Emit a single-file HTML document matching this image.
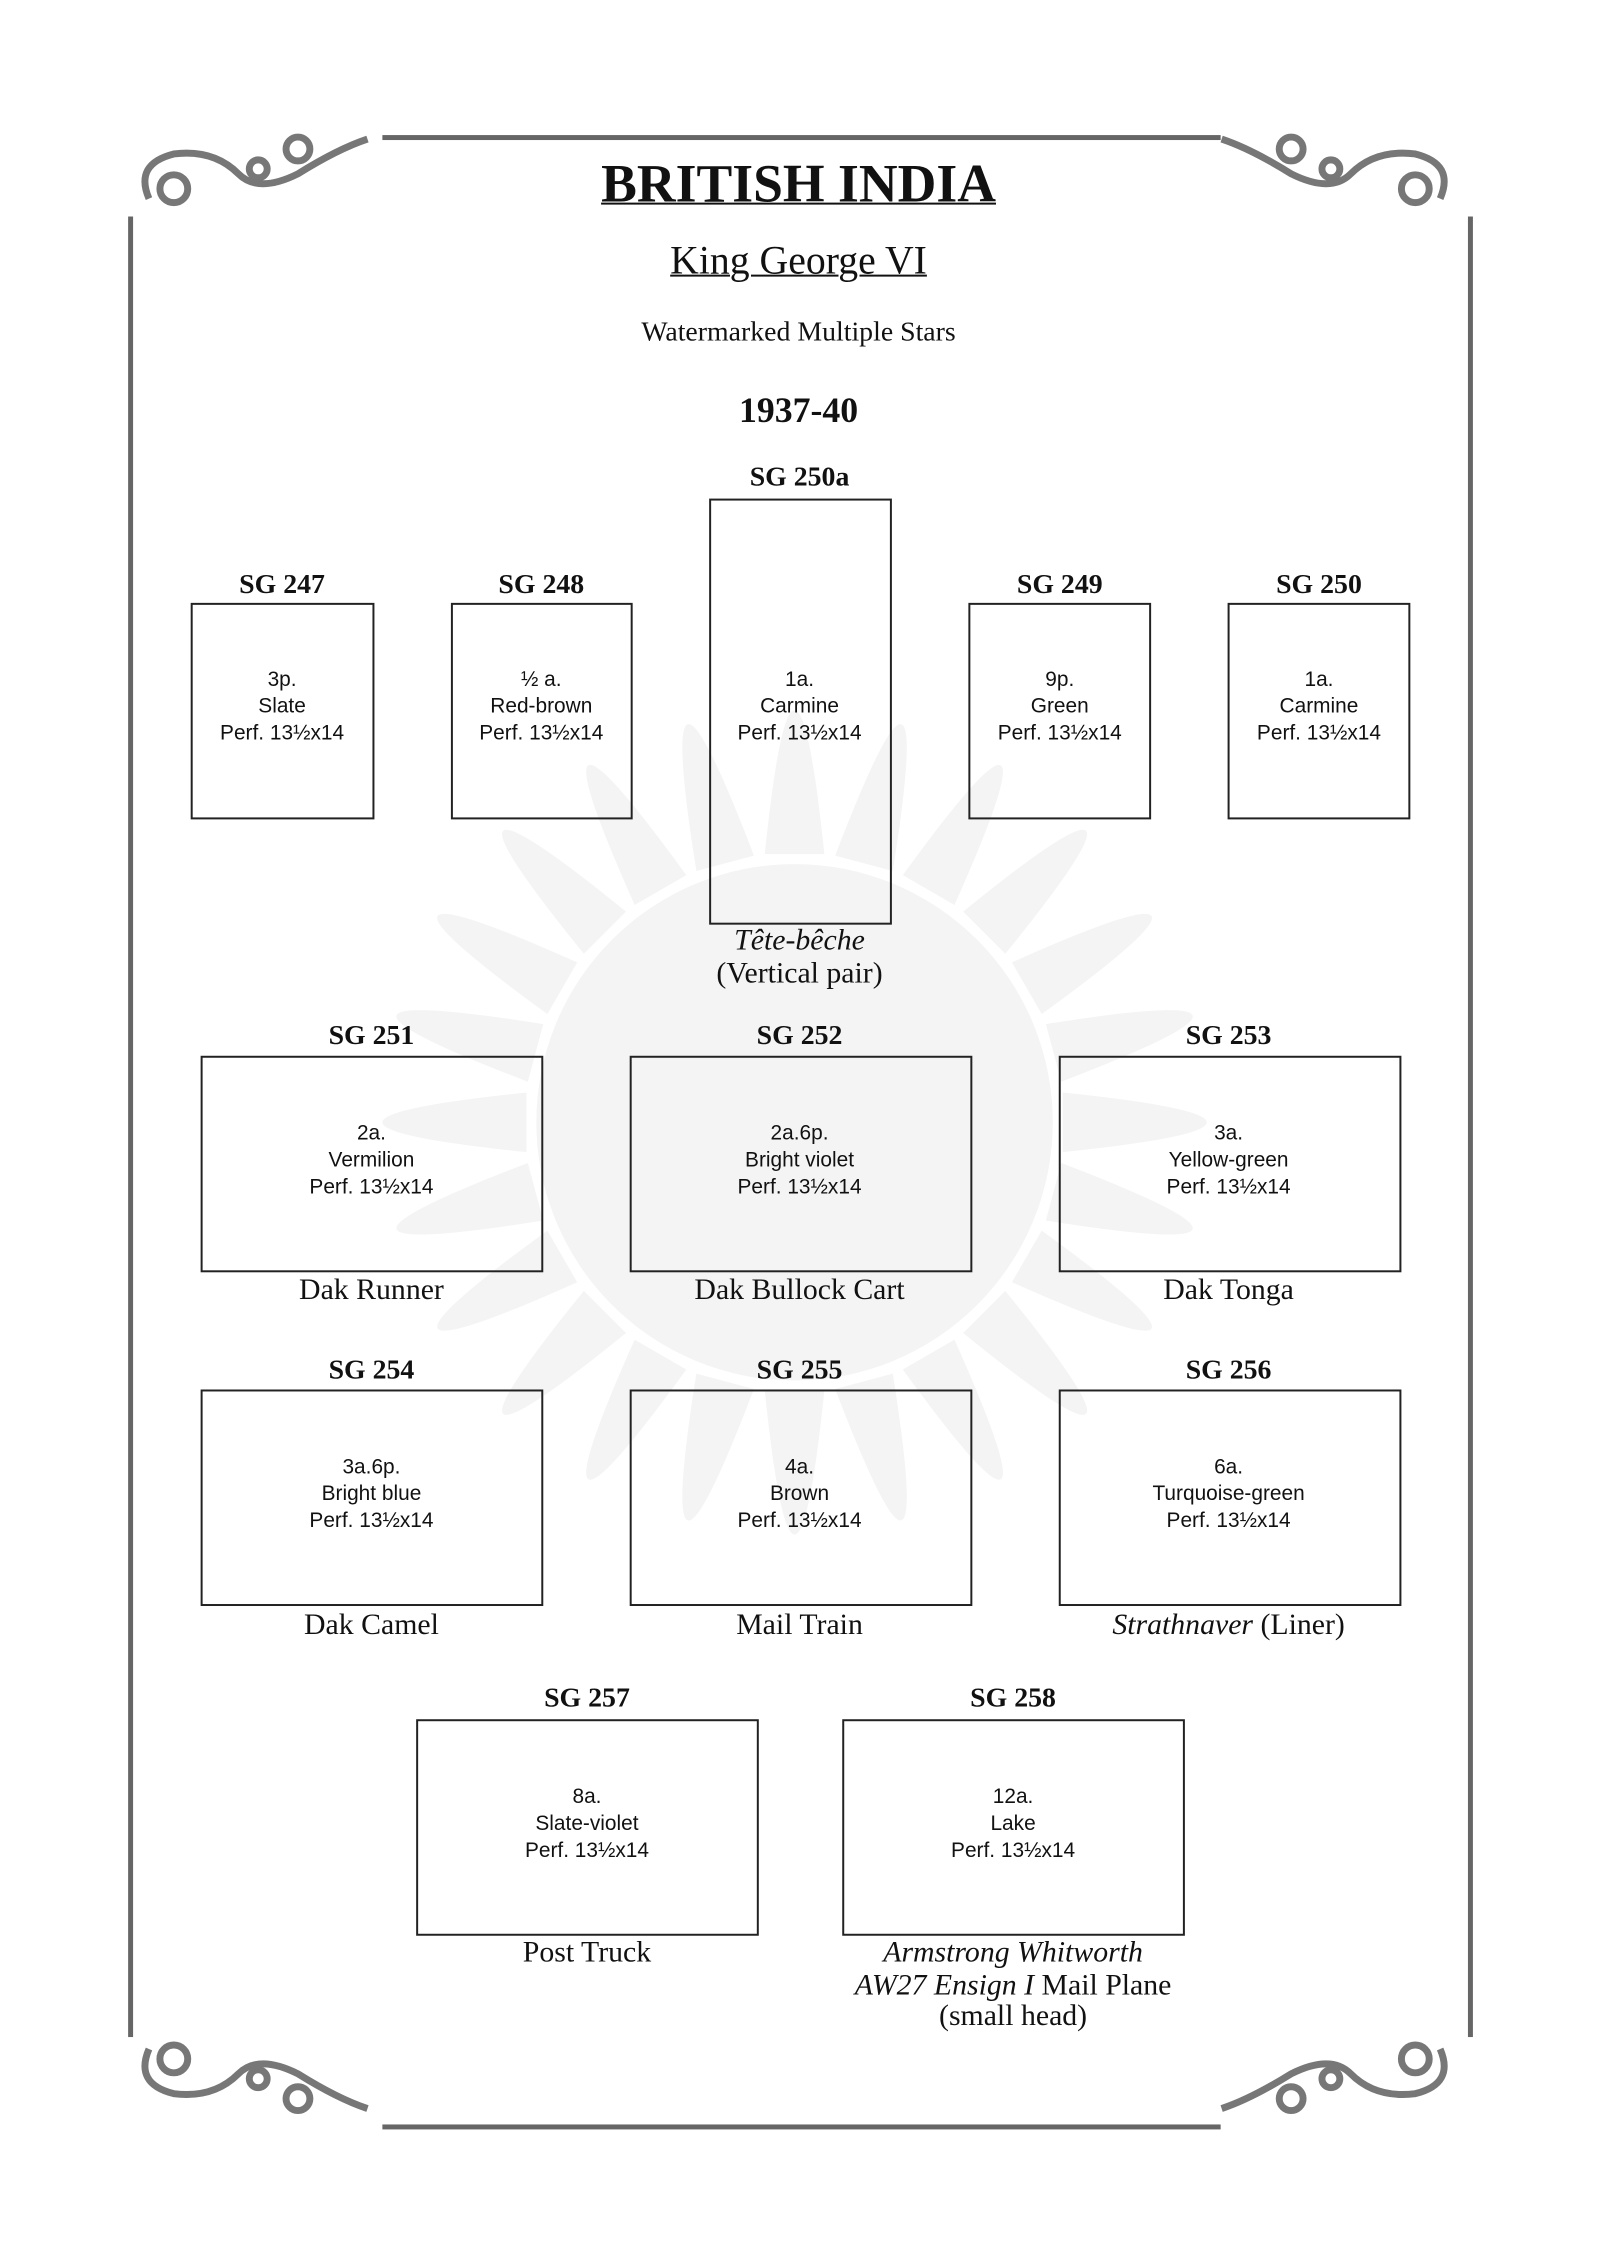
<!DOCTYPE html>
<html><head><meta charset="utf-8"><style>
body{margin:0;background:#fff;}
#o{position:relative;width:1600px;height:2263px;overflow:hidden;background:#fff;}
#p{position:absolute;left:0;top:0;width:1600px;height:2263px;transform:scale(0.9932);transform-origin:0 0;font-family:"Liberation Serif",serif;color:#111;}
.c{position:absolute;transform:translate(-50%,-50%);white-space:nowrap;text-align:center;}
.b{position:absolute;border:2.5px solid #222;box-sizing:border-box;}
.sg{font-weight:bold;font-size:28px;}
.t{font-family:"Liberation Sans",sans-serif;font-size:21px;line-height:27px;}
.cap{font-size:30px;}
.ln{position:absolute;background:#666;}
</style></head><body><div id="o"><div id="p">
<svg width="1600" height="2263" style="position:absolute;left:0;top:0">
<g opacity="0.045" fill="#000" transform="translate(800,1130)">
<circle r="260"/>
<g id="r"><path d="M-30,-270 Q0,-560 30,-270Z"/></g>
<use href="#r" transform="rotate(15)"/><use href="#r" transform="rotate(30)"/><use href="#r" transform="rotate(45)"/><use href="#r" transform="rotate(60)"/><use href="#r" transform="rotate(75)"/><use href="#r" transform="rotate(90)"/><use href="#r" transform="rotate(105)"/><use href="#r" transform="rotate(120)"/><use href="#r" transform="rotate(135)"/><use href="#r" transform="rotate(150)"/><use href="#r" transform="rotate(165)"/><use href="#r" transform="rotate(180)"/><use href="#r" transform="rotate(195)"/><use href="#r" transform="rotate(210)"/><use href="#r" transform="rotate(225)"/><use href="#r" transform="rotate(240)"/><use href="#r" transform="rotate(255)"/><use href="#r" transform="rotate(270)"/><use href="#r" transform="rotate(285)"/><use href="#r" transform="rotate(300)"/><use href="#r" transform="rotate(315)"/><use href="#r" transform="rotate(330)"/><use href="#r" transform="rotate(345)"/>
</g>
<g id="orn" fill="none" stroke="#777" stroke-width="7">
<path d="M150,200 Q135,165 175,155 Q215,150 240,175 Q260,195 300,175 Q340,150 370,140"/>
<circle cx="175" cy="190" r="14"/><circle cx="300" cy="150" r="12"/><circle cx="260" cy="170" r="9"/>
</g>
<use href="#orn" transform="translate(1600,0) scale(-1,1)"/>
<use href="#orn" transform="translate(0,2263) scale(1,-1)"/>
<use href="#orn" transform="translate(1600,2263) scale(-1,-1)"/>
</svg>
<div class="ln" style="left:385px;top:136px;width:844px;height:5px"></div>
<div class="ln" style="left:385px;top:2139px;width:844px;height:5px"></div>
<div class="ln" style="left:129px;top:218px;width:5px;height:1833px"></div>
<div class="ln" style="left:1478px;top:218px;width:5px;height:1833px"></div>

<div class="c" style="left:804px;top:185px;font-size:54px;font-weight:bold;text-decoration:underline;text-decoration-thickness:2px">BRITISH INDIA</div>
<div class="c" style="left:804px;top:262px;font-size:40px;text-decoration:underline;text-decoration-thickness:2px">King George VI</div>
<div class="c" style="left:804px;top:335px;font-size:28px">Watermarked Multiple Stars</div>
<div class="c" style="left:804px;top:413px;font-size:36px;font-weight:bold">1937-40</div>

<div class="c sg" style="left:284px;top:589px">SG 247</div>
<div class="b" style="left:192px;top:607px;width:185px;height:218px"></div>
<div class="c t" style="left:284px;top:711px">3p.<br>Slate<br>Perf. 13½x14</div>
<div class="c sg" style="left:545px;top:589px">SG 248</div>
<div class="b" style="left:454px;top:607px;width:183px;height:218px"></div>
<div class="c t" style="left:545px;top:711px">½ a.<br>Red-brown<br>Perf. 13½x14</div>
<div class="c sg" style="left:805px;top:481px">SG 250a</div>
<div class="b" style="left:714px;top:502px;width:184px;height:429px"></div>
<div class="c t" style="left:805px;top:711px">1a.<br>Carmine<br>Perf. 13½x14</div>
<div class="c cap" style="left:805px;top:947px;font-style:italic">Tête-bêche</div>
<div class="c cap" style="left:805px;top:980px">(Vertical pair)</div>
<div class="c sg" style="left:1067px;top:589px">SG 249</div>
<div class="b" style="left:975px;top:607px;width:184px;height:218px"></div>
<div class="c t" style="left:1067px;top:711px">9p.<br>Green<br>Perf. 13½x14</div>
<div class="c sg" style="left:1328px;top:589px">SG 250</div>
<div class="b" style="left:1236px;top:607px;width:184px;height:218px"></div>
<div class="c t" style="left:1328px;top:711px">1a.<br>Carmine<br>Perf. 13½x14</div>

<div class="c sg" style="left:374px;top:1043px">SG 251</div>
<div class="b" style="left:202px;top:1063px;width:345px;height:218px"></div>
<div class="c t" style="left:374px;top:1168px">2a.<br>Vermilion<br>Perf. 13½x14</div>
<div class="c cap" style="left:374px;top:1299px">Dak Runner</div>
<div class="c sg" style="left:805px;top:1043px">SG 252</div>
<div class="b" style="left:634px;top:1063px;width:345px;height:218px"></div>
<div class="c t" style="left:805px;top:1168px">2a.6p.<br>Bright violet<br>Perf. 13½x14</div>
<div class="c cap" style="left:805px;top:1299px">Dak Bullock Cart</div>
<div class="c sg" style="left:1237px;top:1043px">SG 253</div>
<div class="b" style="left:1066px;top:1063px;width:345px;height:218px"></div>
<div class="c t" style="left:1237px;top:1168px">3a.<br>Yellow-green<br>Perf. 13½x14</div>
<div class="c cap" style="left:1237px;top:1299px">Dak Tonga</div>

<div class="c sg" style="left:374px;top:1380px">SG 254</div>
<div class="b" style="left:202px;top:1399px;width:345px;height:218px"></div>
<div class="c t" style="left:374px;top:1504px">3a.6p.<br>Bright blue<br>Perf. 13½x14</div>
<div class="c cap" style="left:374px;top:1636px">Dak Camel</div>
<div class="c sg" style="left:805px;top:1380px">SG 255</div>
<div class="b" style="left:634px;top:1399px;width:345px;height:218px"></div>
<div class="c t" style="left:805px;top:1504px">4a.<br>Brown<br>Perf. 13½x14</div>
<div class="c cap" style="left:805px;top:1636px">Mail Train</div>
<div class="c sg" style="left:1237px;top:1380px">SG 256</div>
<div class="b" style="left:1066px;top:1399px;width:345px;height:218px"></div>
<div class="c t" style="left:1237px;top:1504px">6a.<br>Turquoise-green<br>Perf. 13½x14</div>
<div class="c cap" style="left:1237px;top:1636px"><i>Strathnaver</i> (Liner)</div>

<div class="c sg" style="left:591px;top:1710px">SG 257</div>
<div class="b" style="left:419px;top:1731px;width:345px;height:218px"></div>
<div class="c t" style="left:591px;top:1836px">8a.<br>Slate-violet<br>Perf. 13½x14</div>
<div class="c cap" style="left:591px;top:1966px">Post Truck</div>
<div class="c sg" style="left:1020px;top:1710px">SG 258</div>
<div class="b" style="left:848px;top:1731px;width:345px;height:218px"></div>
<div class="c t" style="left:1020px;top:1836px">12a.<br>Lake<br>Perf. 13½x14</div>
<div class="c cap" style="left:1020px;top:1966px;font-style:italic">Armstrong Whitworth</div>
<div class="c cap" style="left:1020px;top:1999px"><i>AW27 Ensign I</i> Mail Plane</div>
<div class="c cap" style="left:1020px;top:2030px">(small head)</div>
</div></div></body></html>
